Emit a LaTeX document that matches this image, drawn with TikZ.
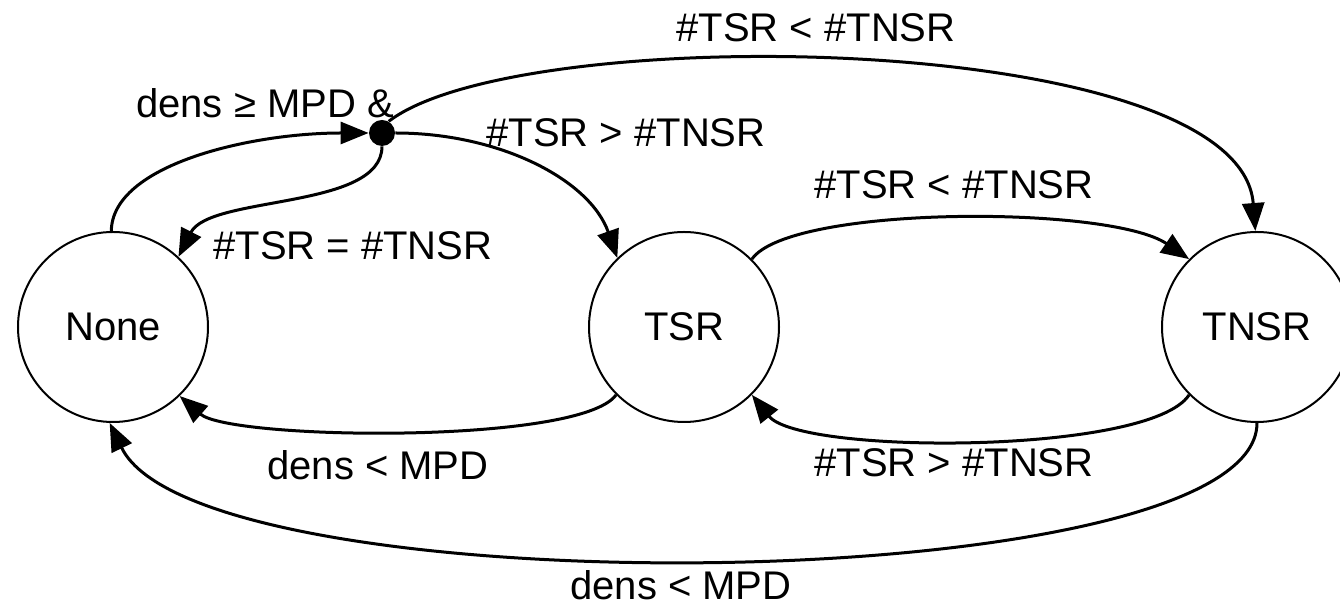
\documentclass[tikz,border=0pt]{standalone}
\usepackage{fontspec}
\setmainfont{Liberation Sans}
\usetikzlibrary{arrows.meta}
\begin{document}
\begin{tikzpicture}[x=0.5pt,y=-0.5pt,
  state/.style={circle,draw,line width=1pt,minimum size=95pt,inner sep=0pt,font=\fontsize{20}{24}\selectfont},
  junction/.style={circle,fill=black,minimum size=13pt,inner sep=0pt},
  lbl/.style={font=\fontsize{20}{24}\selectfont,inner sep=0pt},
  trans/.style={line width=1.5pt,-{Triangle[length=14pt,width=11pt]}},
  plain/.style={line width=1.5pt}]
\clip (0,0) rectangle (1340,613);

% states
\node[state] (none) at (113,327) {None};
\node[state] (tsr) at (684,327) {TSR};
\node[state] (tnsr) at (1257,327) {TNSR};
\node[junction] (j) at (382,133) {};

% guarded branch out of None
\draw[trans] (none.91) .. controls (112,165) and (250,133) .. (j.west);
\draw[trans] (j.south) .. controls (382,210) and (210,195) .. (none.47);
\draw[trans] (j.east) .. controls (500,133) and (590,180) .. (tsr.134);
\draw[trans] (j.60) .. controls (520,20) and (1240,30) .. (tnsr.91);

% transitions between states
\draw[trans] (tsr.45) .. controls (790,205) and (1110,205) .. (tnsr.135);
\draw[trans] (tnsr.-135) .. controls (1150,455) and (800,455) .. (tsr.-45);
\draw[trans] (tsr.-135) .. controls (580,445) and (230,440) .. (none.-46);
\draw[trans] (tnsr.-90) .. controls (1257,600) and (200,610) .. (none.-92);

% guards
\node[lbl] (g1) at (265,103) {dens ≥ MPD \&};
\node[lbl] (g2) at (353,246) {\#TSR = \#TNSR};
\node[lbl] (g3) at (626,133) {\#TSR > \#TNSR};
\node[lbl] (g4) at (816,28) {\#TSR < \#TNSR};
\node[lbl] (g5) at (954,185) {\#TSR < \#TNSR};
\node[lbl] (g6) at (954,463) {\#TSR > \#TNSR};
\node[lbl] (g7) at (378,465) {dens < MPD};
\node[lbl] (g8) at (681,585) {dens < MPD};
\end{tikzpicture}
\end{document}
